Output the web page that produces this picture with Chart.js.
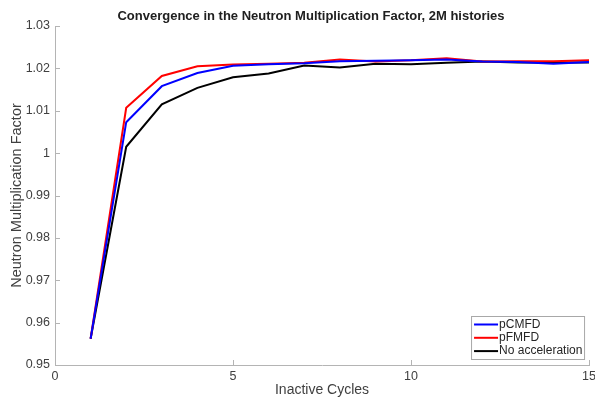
<!DOCTYPE html>
<html>
<head>
<meta charset="utf-8">
<script src="https://cdn.jsdelivr.net/npm/chart.js@4.4.1/dist/chart.umd.min.js"></script>
<style>
  html, body { margin: 0; padding: 0; background: #fff; overflow: hidden; }
  #wrap { width: 600px; height: 399px; }
</style>
</head>
<body>
<div id="wrap"><canvas id="kChart"></canvas></div>
<script>
const cycles = [1, 2, 3, 4, 5, 6, 7, 8, 9, 10, 11, 12, 13, 14, 15];
const pcmfd = [0.9562, 1.0073, 1.0158, 1.0189, 1.0206, 1.0210, 1.0212, 1.0217, 1.0218, 1.0219, 1.0221, 1.0216, 1.0215, 1.0211, 1.0215];
const pfmfd = [0.9562, 1.0107, 1.0182, 1.0205, 1.0209, 1.0211, 1.0213, 1.0221, 1.0216, 1.0219, 1.0224, 1.0216, 1.0217, 1.0217, 1.0219];
const noAccel = [0.9562, 1.0015, 1.0115, 1.0154, 1.0179, 1.0188, 1.0207, 1.0202, 1.0211, 1.0210, 1.0213, 1.0216, 1.0214, 1.0214, 1.0214];
const seriesLabels = ['pCMFD', 'pFMFD', 'No acceleration'];
const seriesColors = ['#0000ff', '#ff0000', '#000000'];
const xTicks = [0, 5, 10, 15];
const yTicks = [0.95, 0.96, 0.97, 0.98, 0.99, 1, 1.01, 1.02, 1.03];
const chartTitle = 'Convergence in the Neutron Multiplication Factor, 2M histories';

const font = 'Liberation Sans, Arial, Helvetica, sans-serif';
const axisGray = '#b4b4b4';
const textGray = '#404040';

function toPoints(ys) {
    return cycles.map((c, i) => ({ x: c, y: ys[i] }));
}

// ticks pointing inward, MATLAB style
const innerTicks = {
    id: 'innerTicks',
    afterDraw(chart) {
        const ctx = chart.ctx;
        const a = chart.chartArea;
        const xs = chart.scales.x, ys = chart.scales.y;
        ctx.save();
        ctx.strokeStyle = axisGray;
        ctx.lineWidth = 1;
        ctx.beginPath();
        xTicks.forEach(v => {
            const px = Math.round(xs.getPixelForValue(v)) + 0.5;
            ctx.moveTo(px, a.bottom);
            ctx.lineTo(px, a.bottom - 5);
        });
        yTicks.forEach(v => {
            const py = Math.round(ys.getPixelForValue(v)) + 0.5;
            ctx.moveTo(a.left, py);
            ctx.lineTo(a.left + 5, py);
        });
        ctx.stroke();
        ctx.restore();
    }
};

const titleText = {
    id: 'titleText',
    afterDraw(chart) {
        const ctx = chart.ctx;
        ctx.save();
        ctx.font = 'bold 13px ' + font;
        ctx.fillStyle = '#202020';
        ctx.textAlign = 'center';
        ctx.textBaseline = 'middle';
        ctx.fillText(chartTitle, 311, 16);
        ctx.restore();
    }
};

const boxLegend = {
    id: 'boxLegend',
    afterDraw(chart) {
        const ctx = chart.ctx;
        const a = chart.chartArea;
        const w = 113, h = 43;
        const x0 = a.right - 5 - w, y0 = a.bottom - 6 - h;
        ctx.save();
        ctx.fillStyle = '#fff';
        ctx.fillRect(x0, y0, w, h);
        ctx.strokeStyle = '#a8a8a8';
        ctx.lineWidth = 1;
        ctx.strokeRect(x0 + 0.5, y0 + 0.5, w, h);
        ctx.font = '12px ' + font;
        ctx.textBaseline = 'middle';
        ctx.fillStyle = '#262626';
        seriesLabels.forEach((lab, i) => {
            const yy = y0 + 8.5 + i * 13.3;
            ctx.strokeStyle = seriesColors[i];
            ctx.lineWidth = 2;
            ctx.beginPath();
            ctx.moveTo(x0 + 3, yy);
            ctx.lineTo(x0 + 27, yy);
            ctx.stroke();
            ctx.fillText(lab, x0 + 28, yy);
        });
        ctx.restore();
    }
};

new Chart(document.getElementById('kChart'), {
    type: 'line',
    data: {
        datasets: [pcmfd, pfmfd, noAccel].map((ys, i) => ({
            label: seriesLabels[i],
            data: toPoints(ys),
            borderColor: seriesColors[i],
            backgroundColor: seriesColors[i],
            borderWidth: 2,
            pointRadius: 0,
            tension: 0
        }))
    },
    options: {
        responsive: true,
        maintainAspectRatio: false,
        animation: false,
        layout: { padding: { top: 26, right: 9, left: 0, bottom: 0 } },
        plugins: {
            legend: { display: false },
            title: { display: false },
            tooltip: { enabled: false }
        },
        scales: {
            x: {
                type: 'linear',
                min: 0,
                max: 15,
                afterBuildTicks: s => { s.ticks = xTicks.map(v => ({ value: v })); },
                afterFit: s => { s.height = 34; },
                grid: { drawOnChartArea: false, drawTicks: false },
                border: { color: axisGray, width: 1 },
                ticks: { color: textGray, font: { family: font, size: 12.5 }, padding: 4, maxRotation: 0 },
                title: { display: true, text: 'Inactive Cycles', color: textGray, font: { family: font, size: 14 }, padding: { top: 0, bottom: 0 } }
            },
            y: {
                min: 0.95,
                max: 1.03,
                afterBuildTicks: s => { s.ticks = yTicks.map(v => ({ value: v })); },
                afterFit: s => { s.width = 55; },
                grid: { drawOnChartArea: false, drawTicks: false },
                border: { color: axisGray, width: 1 },
                ticks: {
                    color: textGray,
                    font: { family: font, size: 12.5 },
                    padding: 5,
                    callback: v => String(Number(v.toFixed(2)))
                },
                title: { display: true, text: 'Neutron Multiplication Factor', color: textGray, font: { family: font, size: 14.5 }, padding: { top: 8, bottom: 0 } }
            }
        }
    },
    plugins: [innerTicks, titleText, boxLegend]
});
</script>
</body>
</html>
